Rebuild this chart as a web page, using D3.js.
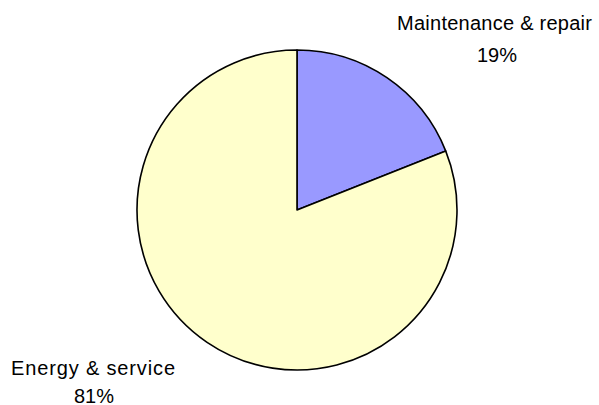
<!DOCTYPE html>
<html>
<head>
<meta charset="utf-8">
<script src="https://cdn.jsdelivr.net/npm/d3@7"></script>
<style>
html,body{margin:0;padding:0;background:#fff;}
svg{display:block;}
text{font-family:"Liberation Sans",Arial,sans-serif;fill:#000;}
</style>
</head>
<body>
<svg id="chart" width="599" height="405"></svg>
<script>
const categories = ["Maintenance & repair", "Energy & service"];
const values = [19, 81];
const percentLabels = ["19%", "81%"];
const colors = ["#9999FF", "#FFFFCC"];

const svg = d3.select("#chart");
const cx = 297, cy = 210, r = 160;
const g = svg.append("g").attr("transform", `translate(${cx},${cy})`);

const pie = d3.pie().sort(null).value(d => d.value);
const arc = d3.arc().innerRadius(0).outerRadius(r);
const data = categories.map((c, i) => ({name: c, value: values[i], pct: percentLabels[i], color: colors[i]}));
const arcs = pie(data);

g.selectAll("path").data(arcs).enter().append("path")
  .attr("d", arc)
  .attr("fill", d => d.data.color)
  .attr("stroke", "#000")
  .attr("stroke-width", 1.6)
  .attr("stroke-linejoin", "round");

// label positions
const labelPos = [
  {x: 494.5, y1: 30, y2: 62, len: 195, px: 497},
  {x: 93, y1: 375, y2: 403, len: 164, px: 94}
];
arcs.forEach((d, i) => {
  const p = labelPos[i];
  svg.append("text").attr("text-anchor", "middle").style("font-size", "20px")
    .attr("x", p.x).attr("y", p.y1)
    .attr("textLength", p.len).attr("lengthAdjust", "spacing")
    .text(d.data.name);
  svg.append("text").attr("text-anchor", "middle").style("font-size", "20px")
    .attr("x", p.px).attr("y", p.y2)
    .text(d.data.pct);
});
</script>
</body>
</html>
